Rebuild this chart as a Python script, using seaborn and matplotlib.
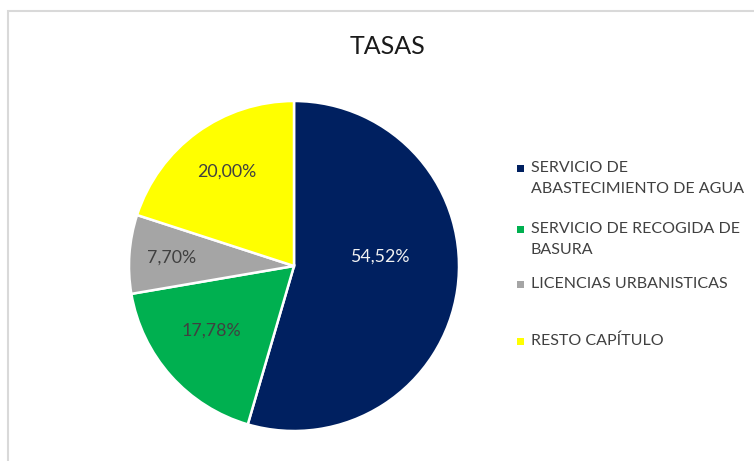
import matplotlib
matplotlib.use("Agg")
import matplotlib.pyplot as plt
import seaborn as sns
from matplotlib.patches import Rectangle

# data
categories = ["SERVICIO DE\nABASTECIMIENTO DE AGUA", "SERVICIO DE RECOGIDA DE\nBASURA",
              "LICENCIAS URBANISTICAS", "RESTO CAPÍTULO"]
shares = [54.52, 17.78, 7.70, 20.00]
colors = ["#002060", "#00B050", "#A5A5A5", "#FFFF00"]
title = "TASAS"

sns.set_theme(style="white")
plt.rcParams["font.family"] = ["Lato", "DejaVu Sans"]

W, H = 754, 461
fig = plt.figure(figsize=(W / 100, H / 100), dpi=100)

# chart area border (light grey frame, cut at right/bottom)
fig.add_artist(Rectangle((8 / W, -0.1), 2.0, (H - 11) / H + 0.1, transform=fig.transFigure,
                         fill=False, edgecolor="#D9D9D9", linewidth=1.5))

cx, cy, r = 294, 266, 165
ax = fig.add_axes([(cx - r) / W, (H - cy - r) / H, 2 * r / W, 2 * r / H])

wedges, texts, autotexts = ax.pie(
    shares, colors=sns.color_palette(colors), startangle=90, counterclock=False,
    autopct=lambda p: f"{p:.2f}%".replace(".", ","),
    wedgeprops=dict(edgecolor="white", linewidth=1.8),
    textprops=dict(fontsize=12.8, color="#404040"),
)
ax.set_xlim(-1, 1)
ax.set_ylim(-1, 1)
ax.set_aspect("equal")

# label positions like the Excel best-fit placement
label_pos = [(0.52, 0.055), (-0.50, -0.39), (-0.74, 0.05), (-0.41, 0.57)]
for t, pos, val in zip(autotexts, label_pos, shares):
    t.set_position(pos)
    t.set_text(f"{val:.2f}%".replace(".", ","))
autotexts[0].set_color("#F2F2F2")

fig.text(388 / W, 1 - 46 / H, title, ha="center", va="center", fontsize=18, color="#1A1A1A")

# legend drawn entry by entry (marker aligned on first line, Excel style)
line_y = [[168, 189], [229, 250], [284], [341]]
for cat, col, ys in zip(categories, colors, line_y):
    fig.add_artist(Rectangle(((520 - 3.5) / W, 1 - (ys[0] + 3.5) / H), 7 / W, 7 / H,
                             transform=fig.transFigure, facecolor=col, edgecolor="none"))
    for line, y in zip(cat.split("\n"), ys):
        fig.text(531 / W, 1 - y / H, line, ha="left", va="center", fontsize=11.5, color="#404040")

fig.savefig("out.png", dpi=100)
